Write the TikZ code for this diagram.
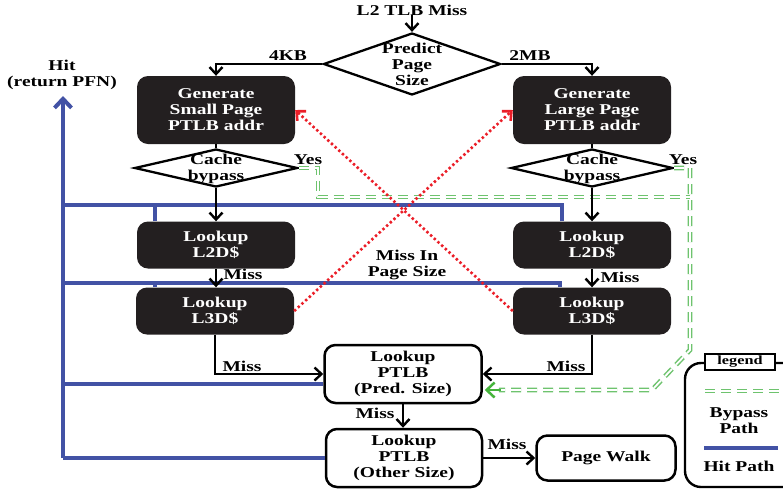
\documentclass[tikz,border=0pt]{standalone}
\usepackage{fontspec}
\newfontfamily\figfont{Liberation Serif}[FakeStretch=1.3]
\usetikzlibrary{arrows.meta,shapes.geometric,calc}
\newcommand\mainfnt{\figfont\bfseries\fontsize{15}{16}\selectfont}
\newcommand\tagfnt{\figfont\bfseries\fontsize{12.5}{14}\selectfont}
\definecolor{boxblack}{RGB}{35,31,32}
\definecolor{hitblue}{RGB}{66,82,165}
\definecolor{bypassgreen}{RGB}{110,195,110}
\definecolor{tipgreen}{RGB}{70,180,60}
\definecolor{missred}{RGB}{235,30,40}
\begin{document}
\begin{tikzpicture}[x=1pt,y=-1pt,
  plain/.style={font=\mainfnt, align=center, inner sep=0pt},
  darkbox/.style={rectangle, rounded corners=11pt, fill=boxblack, text=white,
    font=\mainfnt, align=center, inner sep=0pt, minimum width=158pt},
  lightbox/.style={rectangle, rounded corners=11pt, draw=black, line width=2.5pt,
    fill=white, font=\mainfnt, align=center, inner sep=0pt},
  decision/.style={diamond, draw=black, line width=2.3pt, inner sep=0pt},
  link/.style={draw=black, line width=2.4pt},
  flow/.style={link, -{Straight Barb[length=7pt,width=13pt]}},
  hit/.style={draw=hitblue, line width=4pt},
  bypass/.style={draw=bypassgreen, line width=1.5pt, double=white,
    double distance=1.8pt, dash pattern=on 10pt off 6pt},
  bypasstip/.style={draw=tipgreen, line width=2.5pt,
    -{Straight Barb[length=8pt,width=15pt]}},
  missline/.style={draw=missred, line width=2.6pt, dash pattern=on 2.4pt off 2.6pt,
    -{Straight Barb[length=7pt,width=13pt]}},
  legendtag/.style={rectangle, draw=black, line width=1.2pt, fill=white,
    font=\tagfnt, minimum width=70pt, minimum height=16pt, inner sep=0pt}
]
\useasboundingbox (0,0) rectangle (783,491);
\clip (0,0) rectangle (783,491);

% ---- nodes ----
\node[plain] (start) at (412,10) {L2 TLB Miss};
\node[decision, minimum width=177pt, minimum height=62pt] (pred) at (412,64) {};
\node[plain] (predtxt) at (412,64) {Predict\\Page\\Size};

\node[darkbox, minimum height=68pt] (gsmall) at (216,110) {Generate\\Small Page\\PTLB addr};
\node[darkbox, minimum height=68pt] (glarge) at (592,110) {Generate\\Large Page\\PTLB addr};

\node[decision, minimum width=163pt, minimum height=38pt] (cbl) at (216,168) {};
\node[plain] (cbltxt) at (216,169) {Cache\\bypass};
\node[decision, minimum width=162pt, minimum height=38pt] (cbr) at (592,168) {};
\node[plain] (cbrtxt) at (592,169) {Cache\\bypass};

\node[darkbox, minimum height=47pt] (l2l) at (216,245) {Lookup\\L2D\$};
\node[darkbox, minimum height=47pt] (l3l) at (215,311) {Lookup\\L3D\$};
\node[darkbox, minimum height=47pt] (l2r) at (592,245) {Lookup\\L2D\$};
\node[darkbox, minimum height=47pt] (l3r) at (592,311) {Lookup\\L3D\$};

\node[lightbox, minimum width=157pt, minimum height=58pt] (ptlbp) at (403,374) {Lookup\\PTLB\\(Pred. Size)};
\node[lightbox, minimum width=156pt, minimum height=58pt] (ptlbo) at (404,458) {Lookup\\PTLB\\(Other Size)};
\node[lightbox, minimum width=139pt, minimum height=45pt] (walk) at (606,458) {Page Walk};

\node[plain] (hitlbl) at (62,75) {Hit\\(return PFN)};

% ---- hit path ----
\coordinate (hitbot) at (63,458);
\coordinate (hittop) at (63,96);
\coordinate (hitl2) at (63,205);
\coordinate (hitl3) at (63,283);
\coordinate (hitp) at (63,384);
\draw[hit] (ptlbo.west) -- (hitbot);
\draw[hit, -{Straight Barb[length=9pt,width=17pt]}] (hitbot) -- (hittop);
\draw[hit] ($(ptlbp.west)+(0,10)$) -- (hitp);
\draw[hit] ($(l2r.north west)+(49,0)$) |- (hitl2);
\draw[hit] ($(l2l.north west)+(18,0)$) -- ++(0,-17);
\draw[hit] ($(l3r.north west)+(47,0)$) |- (hitl3);
\draw[hit] ($(l3l.north west)+(19,0)$) -- ++(0,-5);

% ---- bypass path ----
\coordinate (gl) at (318,197);
\coordinate (gj) at (690,197);
\coordinate (gr) at (690,350);
\coordinate (gd) at (652,390);
\coordinate (ge) at ($(ptlbp.east)+(16,16)$);
\draw[bypass] (cbl.east) -| (gl) -- (gj);
\draw[bypass] (cbr.east) -| (gr) -- (gd) -- (ge);
\draw[bypasstip] ($(ptlbp.east)+(18,16)$) -- ($(ptlbp.east)+(2,16)$);
\node[plain] (yesl) at (308,160) {Yes};
\node[plain] (yesr) at (683,160) {Yes};

% ---- main flow ----
\draw[flow] (start) -- (pred.north);
\draw[flow] (pred.west) -| (gsmall.north);
\draw[flow] (pred.east) -| (glarge.north);
\node[plain] (kb) at (288,56) {4KB};
\node[plain] (mb) at (530,56) {2MB};
\draw[link] (gsmall.south) -- (cbl.north);
\draw[link] (glarge.south) -- (cbr.north);
\draw[flow] (cbl.south) -- (l2l.north);
\draw[flow] (cbr.south) -- (l2r.north);
\draw[flow] (l2l.south) -- (l2l.south |- l3l.north);
\draw[flow] (l2r.south) -- (l3r.north);
\node[plain] (missl2l) at (243,274) {Miss};
\node[plain] (missl2r) at (620,277) {Miss};
\draw[flow] (l3l.south) |- (ptlbp.west);
\draw[flow] (l3r.south) |- (ptlbp.east);
\node[plain] (missl3l) at (242,366) {Miss};
\node[plain] (missl3r) at (566,366) {Miss};
\draw[flow] (ptlbp.south) -- (ptlbp.south |- ptlbo.north);
\node[plain] (missp) at (375,413) {Miss};
\draw[flow] (ptlbo.east) -- (walk.west);
\node[plain] (misso) at (507,444) {Miss};

% ---- misses in the other page size ----
\draw[missline] (l3l.east) -- (glarge.west);
\draw[missline] (l3r.west) -- (gsmall.east);
\node[plain] (missinps) at (407,265) {Miss In\\Page Size};

% ---- legend ----
\draw[link, rounded corners=16pt] (685,363) rectangle (830,487);
\node[legendtag] (legtag) at (740,362) {legend};
\coordinate (lgb1) at (705,391);
\coordinate (lgb2) at (800,391);
\draw[bypass] (lgb1) -- (lgb2);
\node[plain] (lgbtxt) at (739,421) {Bypass\\Path};
\coordinate (lgh1) at (704,448);
\coordinate (lgh2) at (778,448);
\draw[hit] (lgh1) -- (lgh2);
\node[plain] (lghtxt) at (739,466) {Hit Path};
\end{tikzpicture}
\end{document}
